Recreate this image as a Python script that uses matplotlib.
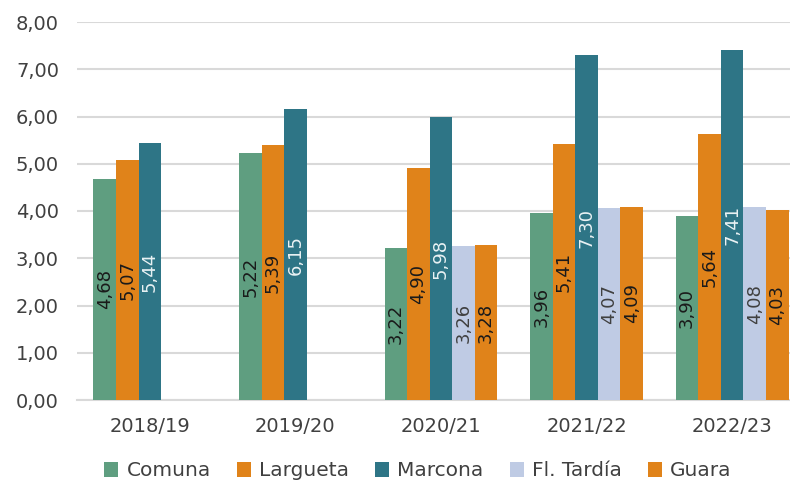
import numpy as np
import matplotlib.pyplot as plt

# Campaigns and series values
campaigns = ['2018/19', '2019/20', '2020/21', '2021/22', '2022/23']
series = ['Comuna', 'Largueta', 'Marcona', 'Fl. Tardía', 'Guara']
comuna = [4.68, 5.22, 3.22, 3.96, 3.90]
largueta = [5.07, 5.39, 4.90, 5.41, 5.64]
marcona = [5.44, 6.15, 5.98, 7.30, 7.41]
fl_tardia = [np.nan, np.nan, 3.26, 4.07, 4.08]
guara = [np.nan, np.nan, 3.28, 4.09, 4.03]

values = [comuna, largueta, marcona, fl_tardia, guara]
colors = ['#5F9E80', '#E0831A', '#2E7586', '#BFCBE4', '#E0831A']
label_colors = ['#1a1a1a', '#1a1a1a', '#EAF2F4', '#404040', '#1a1a1a']

plt.rcParams['font.family'] = ['DejaVu Sans']

fig = plt.figure(figsize=(7.9, 4.83), dpi=100)
ax = fig.add_axes([77 / 790, 83 / 483, 728 / 790, 378 / 483])

x = np.arange(len(campaigns))
width = 0.155

for i, (name, vals) in enumerate(zip(series, values)):
    pos = x + (i - 2) * width
    vals = np.array(vals, dtype=float)
    ax.bar(pos, vals, width, color=colors[i], label=name, zorder=3)
    for p, v in zip(pos, vals):
        if np.isnan(v):
            continue
        ax.text(p, v / 2, f'{v:.2f}'.replace('.', ','), rotation=90,
                ha='center', va='center', fontsize=13,
                color=label_colors[i], zorder=4)

ax.set_xlim(-0.5, len(campaigns) - 0.5)
ax.set_ylim(0, 8)
ax.set_yticks(np.arange(0, 9, 1))
ax.set_yticklabels([f'{t:.2f}'.replace('.', ',') for t in np.arange(0, 9, 1)])
ax.set_xticks(x)
ax.set_xticklabels(campaigns)
ax.grid(axis='y', color='#D9D9D9', linewidth=1.5, zorder=0)
ax.tick_params(length=0, labelsize=14, colors='#404040')
ax.tick_params(axis='y', pad=13)
ax.tick_params(axis='x', pad=12)
for s in ['top', 'right', 'left']:
    ax.spines[s].set_visible(False)
ax.spines['bottom'].set_color('#D9D9D9')
ax.spines['bottom'].set_linewidth(1.5)

fig.legend(loc='center', bbox_to_anchor=(418 / 790, 12 / 483), ncol=5,
           frameon=False, fontsize=14.5, handlelength=0.7, handleheight=0.7,
           handletextpad=0.4, columnspacing=1.3, labelcolor='#404040')

fig.savefig('out.png', dpi=100)
